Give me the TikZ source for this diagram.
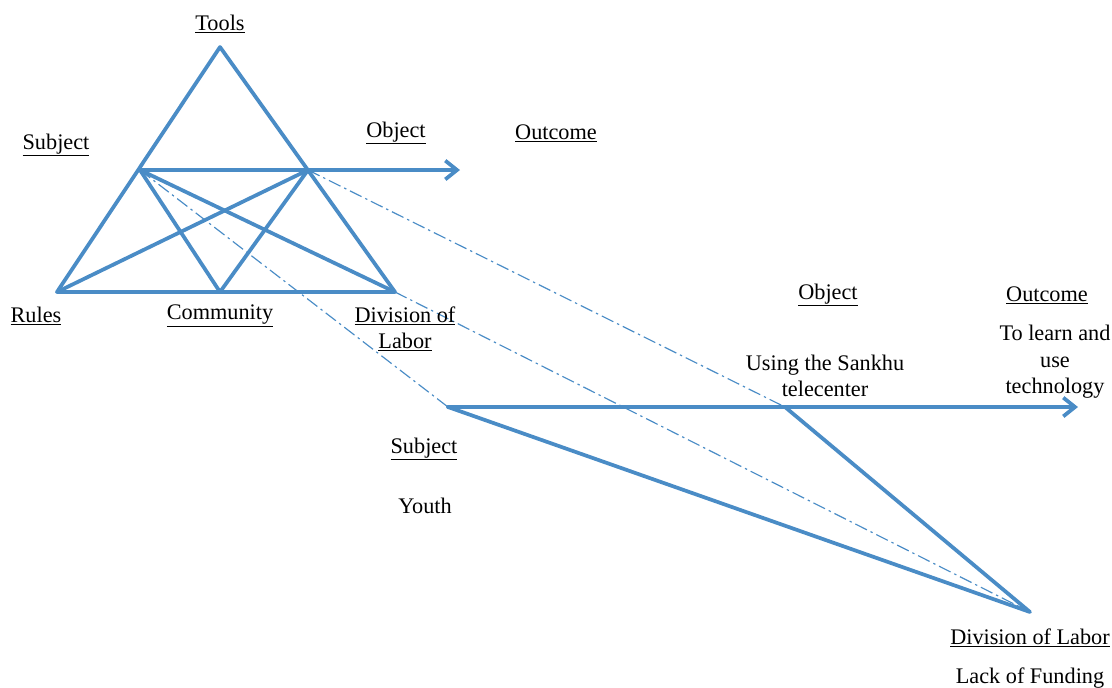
\documentclass[tikz,border=0pt]{standalone}
\usepackage{fontspec}
\setmainfont{Liberation Serif}
\usetikzlibrary{arrows.meta}
\definecolor{linkblue}{RGB}{74,140,198}
\begin{document}
\begin{tikzpicture}[x=0.03cm,y=-0.03cm,
 edge/.style={draw=linkblue,line width=3.2pt,line cap=round,line join=round},
 link/.style={draw=linkblue,line width=1pt,dash pattern=on 11pt off 3.5pt on 2pt off 3.5pt},
 flow/.style={edge,-{Straight Barb[length=10pt,width=16pt]}},
 lbl/.style={font=\fontsize{19}{22.5}\selectfont,inner sep=0pt,align=center}]
\useasboundingbox (0,0) rectangle (1112,687);
% first activity triangle
\coordinate (T) at (220,47);
\coordinate (S) at (140,170);
\coordinate (O) at (308,170);
\coordinate (R) at (57,292);
\coordinate (C) at (220,292);
\coordinate (D) at (395,292);
\coordinate (E) at (460,170);
% second activity
\coordinate (S2) at (448,407);
\coordinate (O2) at (785,407);
\coordinate (E2) at (1078,407);
\coordinate (D2) at (1030,612);
% links between the two
\draw[link] (S) -- (S2);
\draw[link] (O) -- (O2);
\draw[link] (D) -- (D2);
\draw[edge] (T) -- (R) -- (D) -- cycle;
\draw[edge] (S) -- (C) -- (O) -- (R);
\draw[edge] (S) -- (D);
\draw[flow] (S) -- (E);
\draw[edge] (S2) -- (D2) -- (O2);
\draw[flow] (S2) -- (E2);
% labels
\node[lbl] (tools) at (220,24) {\underline{Tools}};
\node[lbl] (subj) at (56,145) {\underline{Subject}};
\node[lbl] (obj) at (396,133) {\underline{Object}};
\node[lbl] (outc) at (556,133) {\underline{Outcome}};
\node[lbl] (rules) at (36,316) {\underline{Rules}};
\node[lbl] (comm) at (220,316) {\underline{Community}};
\node[lbl] (div) at (405,329) {\underline{Division of}\\\underline{Labor}};
\node[lbl] (obj2) at (828,295) {\underline{Object}};
\node[lbl] (outc2) at (1047,295) {\underline{Outcome}};
\node[lbl] (use) at (825,376) {Using the Sankhu\\telecenter};
\node[lbl] (learn) at (1055,362) {To learn and\\use\\technology};
\node[lbl] (subj2) at (424,449) {\underline{Subject}};
\node[lbl] (youth) at (425,506) {Youth};
\node[lbl] (div2) at (1030,638) {\underline{Division of Labor}};
\node[lbl] (fund) at (1030,678) {Lack of Funding};
\end{tikzpicture}
\end{document}
